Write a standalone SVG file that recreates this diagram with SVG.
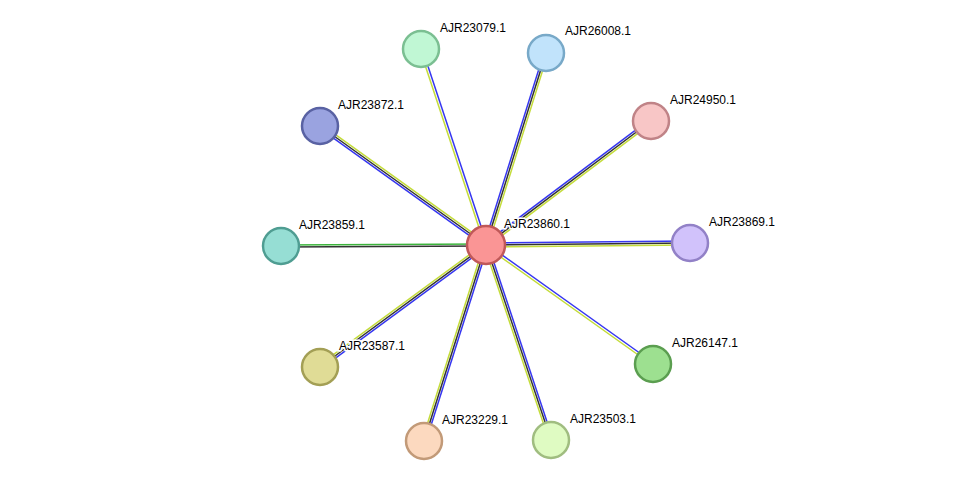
<svg xmlns="http://www.w3.org/2000/svg" width="976" height="487" viewBox="0 0 976 487">
<style>
.b{stroke:#3636f0;stroke-width:1.5}.k{stroke:#333;stroke-width:1.5}.y{stroke:#c4dc3a;stroke-width:1.5}.g{stroke:#3cb43c;stroke-width:1.5}
circle{stroke-width:2.5}
text{font-family:"Liberation Sans",Arial,sans-serif;font-size:12px;fill:#000;stroke:#fff;stroke-width:3;paint-order:stroke}
</style>
<rect width="976" height="487" fill="#fff"/>
<g id="edges">
<line class="b" x1="487.1" y1="244.6" x2="422.1" y2="48.6"/><line class="y" x1="484.9" y1="245.4" x2="419.9" y2="49.4"/>
<line class="b" x1="484.1" y1="244.4" x2="544.1" y2="52.4"/><line class="k" x1="486" y1="245" x2="546" y2="53"/><line class="y" x1="487.9" y1="245.6" x2="547.9" y2="53.6"/>
<line class="b" x1="484.8" y1="246.6" x2="318.8" y2="127.6"/><line class="k" x1="486" y1="245" x2="320" y2="126"/><line class="y" x1="487.2" y1="243.4" x2="321.2" y2="124.4"/>
<line class="b" x1="484.8" y1="243.4" x2="649.8" y2="119.4"/><line class="k" x1="486" y1="245" x2="651" y2="121"/><line class="y" x1="487.2" y1="246.6" x2="652.2" y2="122.6"/>
<line class="g" x1="486" y1="244" x2="281" y2="245"/><line class="k" x1="486" y1="246" x2="281" y2="247"/>
<line class="b" x1="486" y1="243" x2="690" y2="241"/><line class="k" x1="486" y1="245" x2="690" y2="243"/><line class="y" x1="486" y1="247" x2="690" y2="245"/>
<line class="b" x1="487.2" y1="246.6" x2="321.2" y2="368.6"/><line class="k" x1="486" y1="245" x2="320" y2="367"/><line class="y" x1="484.8" y1="243.4" x2="318.8" y2="365.4"/>
<line class="b" x1="486.7" y1="244" x2="653.7" y2="363"/><line class="y" x1="485.3" y1="246" x2="652.3" y2="365"/>
<line class="b" x1="487.9" y1="245.6" x2="425.9" y2="441.6"/><line class="k" x1="486" y1="245" x2="424" y2="441"/><line class="y" x1="484.1" y1="244.4" x2="422.1" y2="440.4"/>
<line class="b" x1="487.9" y1="244.4" x2="552.9" y2="439.4"/><line class="k" x1="486" y1="245" x2="551" y2="440"/><line class="y" x1="484.1" y1="245.6" x2="549.1" y2="440.6"/>
</g>
<g id="n23079"><circle cx="421" cy="49" r="18" fill="#c0f7d4" stroke="#7bbf92"/><text x="440" y="32">AJR23079.1</text></g>
<g id="n26008"><circle cx="546" cy="53" r="18" fill="#c1e3fb" stroke="#78a9c8"/><text x="565" y="35">AJR26008.1</text></g>
<g id="n23872"><circle cx="320" cy="126" r="18" fill="#9aa3e0" stroke="#5962a3"/><text x="338" y="109">AJR23872.1</text></g>
<g id="n24950"><circle cx="651" cy="121" r="18" fill="#f8c6c6" stroke="#c08387"/><text x="670" y="104">AJR24950.1</text></g>
<g id="n23859"><circle cx="281" cy="246" r="18" fill="#96ded4" stroke="#4f9d92"/><text x="299" y="229">AJR23859.1</text></g>
<g id="n23869"><circle cx="690" cy="243" r="18" fill="#d1c2fb" stroke="#9281c7"/><text x="709" y="226">AJR23869.1</text></g>
<g id="n23587"><circle cx="320" cy="367" r="18" fill="#e0dc96" stroke="#a39f55"/><text x="339" y="350">AJR23587.1</text></g>
<g id="n26147"><circle cx="653" cy="364" r="18" fill="#9de090" stroke="#5b9e50"/><text x="672" y="347">AJR26147.1</text></g>
<g id="n23229"><circle cx="424" cy="441" r="18" fill="#fcd9bf" stroke="#c29a78"/><text x="442" y="424">AJR23229.1</text></g>
<g id="n23503"><circle cx="551" cy="440" r="18" fill="#dffbc2" stroke="#a0bd80"/><text x="570" y="423">AJR23503.1</text></g>
<g id="n23860"><circle cx="486" cy="245" r="19" fill="#fa9595" stroke="#c05858"/><text x="504" y="228">AJR23860.1</text></g>
</svg>
